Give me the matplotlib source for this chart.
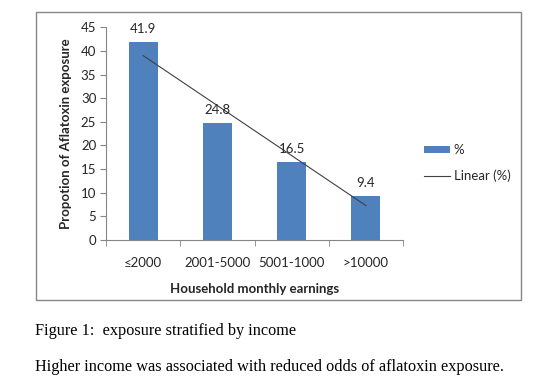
import matplotlib
matplotlib.use("Agg")
import matplotlib.pyplot as plt
import numpy as np
from matplotlib.patches import Rectangle, Patch
from matplotlib.lines import Line2D

categories = ["≤2000", "2001-5000", "5001-1000", ">10000"]
values = [41.9, 24.8, 16.5, 9.4]
value_labels = ["41.9", "24.8", "16.5", "9.4"]
yticks = [0, 5, 10, 15, 20, 25, 30, 35, 40, 45]

W, H = 543, 389
fig = plt.figure(figsize=(W / 100, H / 100), dpi=100)
fig.patch.set_facecolor("white")

font = ["Lato", "DejaVu Sans"]
gray = "#868686"
blue = "#4F81BD"

# outer chart frame
fig.patches.append(Rectangle((36 / W, 1 - 300 / H), 485 / W, 288 / H,
                             transform=fig.transFigure, fill=False,
                             edgecolor=gray, linewidth=1.0))

ax = fig.add_axes([106 / W, 1 - 240 / H, 297 / W, (240 - 27.3) / H])
x = np.arange(len(categories))
ax.bar(x, values, width=0.39, color=blue, zorder=2)

# linear trendline
coef = np.polyfit(x, values, 1)
ax.plot(x, np.polyval(coef, x), color="#404040", linewidth=0.8, zorder=3)

for xi, v, lab in zip(x, values, value_labels):
    ax.annotate(lab, (xi, v), xytext=(0, 5), textcoords="offset points",
                ha="center", va="bottom", fontsize=9.5, family=font,
                color="#262626")

ax.set_xlim(-0.5, len(categories) - 0.5)
ax.set_ylim(0, 45)
ax.set_yticks(yticks)
ax.set_yticklabels([str(t) for t in yticks], family=font, fontsize=9.5, color="#262626")
ax.set_xticks(x)
ax.set_xticklabels(categories, family=font, fontsize=9.5, color="#262626")
ax.set_xticks(np.arange(-0.5, len(categories)), minor=True)
ax.tick_params(axis="x", which="major", length=0, pad=12)
ax.tick_params(axis="x", which="minor", length=4, color=gray, direction="out")
ax.tick_params(axis="y", length=4, color=gray, direction="out", pad=3)
for s in ["top", "right"]:
    ax.spines[s].set_visible(False)
for s in ["left", "bottom"]:
    ax.spines[s].set_color(gray)
    ax.spines[s].set_linewidth(0.8)

ax.set_xlabel("Household monthly earnings", family=font, fontsize=9.5,
              fontweight="bold", labelpad=10, color="#262626")
ax.set_ylabel("Propotion of Aflatoxin exposure", family=font, fontsize=9.5,
              fontweight="bold", labelpad=6, color="#262626")

handles = [Patch(facecolor=blue, edgecolor="none"),
           Line2D([0], [0], color="#404040", linewidth=0.8)]
leg = fig.legend(handles, ["%", "Linear (%)"], loc="center left",
                 bbox_to_anchor=(424 / W, 1 - 163 / H), frameon=False,
                 borderpad=0, borderaxespad=0,
                 prop={"family": font, "size": 9.5}, handlelength=2.0,
                 handleheight=0.5, handletextpad=0.25, labelspacing=1.0)
for t in leg.get_texts():
    t.set_color("#262626")

serif = ["Liberation Serif", "DejaVu Serif"]
fig.text(35 / W, 1 - 331 / H, "Figure 1:  exposure stratified by income",
         family=serif, fontsize=11.7, va="center", ha="left")
fig.text(35 / W, 1 - 367 / H,
         "Higher income was associated with reduced odds of aflatoxin exposure.",
         family=serif, fontsize=11.7, va="center", ha="left")

fig.savefig("out.png", dpi=100, facecolor="white")
